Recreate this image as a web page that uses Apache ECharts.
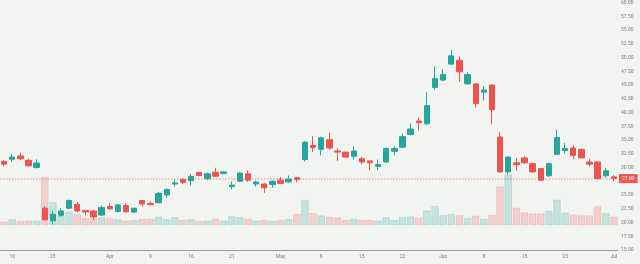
<!DOCTYPE html>
<html>
<head>
<meta charset="utf-8">
<script src="https://cdn.jsdelivr.net/npm/echarts@6/dist/echarts.min.js"></script>
<style>
html,body{margin:0;padding:0;background:#f2f4f1;}
#c{width:640px;height:264px;}
</style>
</head>
<body>
<div id="c"></div>
<script>
const opens  = [31.1,31.5,32.1,31.3,30.0,22.6,20.3,21.3,22.6,23.3,22.2,22.1,21.35,22.9,22.0,23.1,21.9,24.0,23.5,23.6,25.0,27.0,27.8,27.6,29.1,27.95,29.15,28.9,26.5,27.5,28.85,27.0,27.0,26.9,27.7,27.4,28.15,31.45,34.0,33.3,35.05,33.0,32.8,32.05,31.6,31.2,30.2,31.0,32.95,33.7,36.0,38.45,37.95,44.55,45.9,48.8,49.5,45.2,45.2,43.7,45.0,35.55,29.2,30.85,31.75,30.7,29.8,28.5,32.4,33.1,33.55,33.3,31.0,31.0,28.5,28.3];
const closes = [30.6,31.9,31.6,30.3,30.8,20.5,21.5,22.1,24.0,22.1,21.9,21.0,22.75,22.5,23.2,21.95,22.6,23.35,23.25,25.3,26.0,27.2,27.3,28.4,28.55,28.85,28.4,29.2,26.8,29.0,27.7,27.35,26.3,27.5,27.1,27.9,27.8,34.6,33.6,35.4,33.55,32.8,31.9,33.0,31.0,30.85,30.55,33.45,33.45,35.6,37.0,38.15,41.25,46.15,46.9,50.3,47.4,46.9,41.6,44.1,40.5,29.2,31.9,30.5,30.85,29.2,27.7,30.7,35.45,33.45,32.2,31.75,30.6,28.0,29.4,27.99];
const lows   = [30.2,31.0,31.3,30.2,29.8,20.3,19.7,21.05,22.45,21.8,21.3,20.45,21.2,22.3,21.85,21.8,21.8,22.9,23.1,23.5,24.5,26.5,27.0,26.7,28.4,27.7,28.3,28.85,26.0,27.4,27.4,26.5,25.4,26.3,27.0,27.2,27.3,31.1,32.8,32.2,33.3,31.2,31.8,31.45,30.6,29.5,29.5,30.9,32.2,33.6,35.85,36.75,37.65,44.2,45.7,48.6,45.6,45.1,40.9,42.2,37.85,29.1,28.7,29.4,30.7,29.1,27.55,28.3,32.3,32.55,31.55,31.7,30.2,27.9,28.1,27.5];
const highs  = [31.3,32.5,32.7,31.6,31.5,23.0,22.1,22.6,24.2,23.7,22.2,22.3,23.1,23.5,23.3,23.5,22.65,24.1,23.75,25.55,26.2,27.8,28.0,28.8,29.2,29.1,29.95,29.3,27.5,29.1,29.5,27.6,27.1,27.6,28.3,28.55,28.3,34.8,35.7,35.6,36.3,33.45,32.85,33.85,31.95,31.2,31.45,33.7,33.85,36.15,38.0,39.05,43.7,48.4,47.9,51.4,50.2,47.3,45.3,44.8,45.0,36.45,31.9,31.75,32.05,30.9,29.8,30.9,36.9,34.45,34.1,33.45,31.6,31.1,29.95,28.6];
const volumes = [3.3,5.7,4.0,4.3,4.3,47.7,22.7,9.0,13.3,10.7,6.7,6.3,7.7,6.7,5.7,4.3,4.7,6.0,6.0,8.3,5.7,7.7,5.0,5.7,4.0,4.3,6.0,4.3,8.7,7.7,6.0,4.3,5.0,4.0,5.0,5.7,11.0,25.0,12.0,9.5,8.0,7.3,5.0,6.0,5.0,5.0,4.3,7.7,5.0,7.7,8.5,7.2,14.5,18.8,9.6,11.0,9.6,6.8,9.2,6.0,10.2,38.5,50.2,17.2,12.5,11.4,11.4,13.9,25.2,12.4,10.5,9.4,9.5,18.7,11.9,8.3];
const tickIndex = [1,6,13,18,23,28,34,39,44,49,54,59,64,69,75];
const tickText  = ['16','23','Apr','9','16','21','May','8','15','22','Jun','8','15','23','Jul'];
const lastPrice = 27.99;
const yTicks = {min:15, max:60, step:2.5};

const categories = opens.map((_, i) => String(i + 1));
const UP = '#26a69a', DOWN = '#ef5350';
const candleData = opens.map((o, i) => [o, closes[i], lows[i], highs[i]]);
const volData = volumes.map((v, i) => ({
  value: v,
  itemStyle: closes[i] >= opens[i]
    ? {color: 'rgba(38,166,154,0.22)', borderColor: 'rgba(38,166,154,0.28)', borderWidth: 0.6}
    : {color: 'rgba(239,83,80,0.22)', borderColor: 'rgba(239,83,80,0.28)', borderWidth: 0.6}
}));
const labelMap = {};
tickIndex.forEach((k, j) => labelMap[k] = tickText[j]);

const chart = echarts.init(document.getElementById('c'), null, {renderer: 'canvas'});
chart.setOption({
  backgroundColor: '#f2f4f1',
  animation: false,
  textStyle: {fontFamily: 'Roboto'},
  grid: [
    {left: 0, right: 22, top: 2, bottom: 14},
    {left: 0, right: 22, top: 125, bottom: 39}
  ],
  xAxis: [
    {
      type: 'category', data: categories, gridIndex: 0, boundaryGap: true,
      axisLine: {lineStyle: {color: '#9a9a9a', width: 1}},
      axisTick: {show: false},
      axisLabel: {
        fontSize: 5, color: '#777', margin: 4,
        interval: (idx) => labelMap[idx] !== undefined,
        formatter: (v, idx) => labelMap[idx] || ''
      },
      splitLine: {show: false}
    },
    {
      type: 'category', data: categories, gridIndex: 1, boundaryGap: true,
      axisLine: {show: false}, axisTick: {show: false}, axisLabel: {show: false}, splitLine: {show: false}
    }
  ],
  yAxis: [
    {
      type: 'value', gridIndex: 0, position: 'right',
      min: yTicks.min, max: yTicks.max, interval: yTicks.step,
      axisLine: {show: false}, axisTick: {show: false},
      axisLabel: {fontSize: 5, color: '#808080', margin: 3, formatter: v => v.toFixed(2)},
      splitLine: {show: false}
    },
    {
      type: 'value', gridIndex: 1, min: 0, max: 100,
      axisLine: {show: false}, axisTick: {show: false}, axisLabel: {show: false}, splitLine: {show: false}
    }
  ],
  series: [
    {
      type: 'bar', xAxisIndex: 1, yAxisIndex: 1, data: volData,
      barWidth: '90%', z: 1, silent: true
    },
    {
      type: 'candlestick', xAxisIndex: 0, yAxisIndex: 0, data: candleData,
      barWidth: '72%', z: 3,
      itemStyle: {color: UP, color0: DOWN, borderColor: UP, borderColor0: DOWN, borderWidth: 1},
      markLine: {
        symbol: ['none', 'none'], silent: true, z: 5,
        lineStyle: {color: 'rgba(239,83,80,0.45)', type: [1.5, 1.5], width: 1.5},
        label: {
          show: true, position: 'end', distance: 1,
          formatter: () => lastPrice.toFixed(2),
          backgroundColor: DOWN, color: '#fff', fontSize: 5,
          padding: [2, 3, 2, 3]
        },
        data: [{yAxis: lastPrice}]
      }
    }
  ]
});
</script>
</body>
</html>
